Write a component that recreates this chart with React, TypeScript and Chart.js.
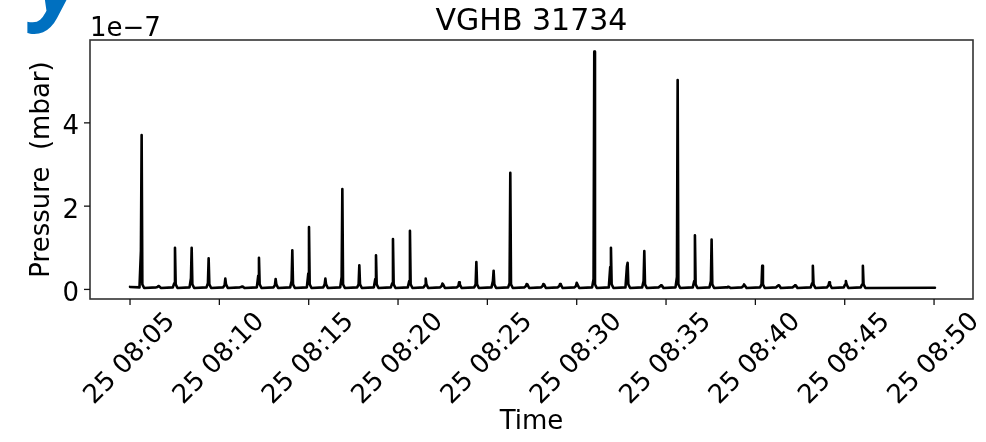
import React, { useEffect, useRef } from "react";
import { Chart, registerables } from "chart.js";

Chart.register(...registerables);

// ---- text ----
const TITLE = "VGHB 31734";
const X_LABEL = "Time";
const Y_LABEL = "Pressure  (mbar)";
const OFFSET_LABEL = "1e\u22127";
const DAY = "25";

// ---- tick labels ----
const X_TICKS = ["08:05", "08:10", "08:15", "08:20", "08:25", "08:30", "08:35", "08:40", "08:45", "08:50"];
const Y_TICKS = [0, 2, 4];

// ---- series (pressure in units of 1e-7 mbar) ----
const START_TIME = "08:05:00";
const END_TIME = "08:50:03";
const START_LEVEL = 0.06;
const BASE_LEVEL = 0.05;
const END_LEVEL = 0.04;

const spikeTimes = [
  "08:05:39", "08:06:35", "08:07:31", "08:08:27", "08:09:24", "08:10:20", "08:11:16", "08:12:13",
  "08:13:09", "08:14:05", "08:15:01", "08:15:56", "08:16:53", "08:17:50", "08:18:46", "08:19:43",
  "08:20:40", "08:21:33", "08:22:29", "08:23:25", "08:24:23", "08:25:21", "08:26:17", "08:27:12",
  "08:28:08", "08:29:04", "08:30:00", "08:30:59", "08:31:55", "08:32:51", "08:33:47", "08:34:43",
  "08:35:39", "08:36:37", "08:37:33", "08:38:28", "08:39:22", "08:40:23", "08:41:17", "08:42:13",
  "08:43:13", "08:44:08", "08:45:04", "08:46:01",
];
const spikePeaks = [
  3.71, 0.08, 1.0, 1.0, 0.75, 0.26, 0.07, 0.76,
  0.25, 0.94, 1.5, 0.26, 2.41, 0.58, 0.82, 1.21,
  1.41, 0.26, 0.14, 0.17, 0.66, 0.45, 2.8, 0.13,
  0.13, 0.13, 0.16, 5.71, 1.0, 0.64, 0.92, 0.1,
  5.03, 1.3, 1.2, 0.06, 0.12, 0.57, 0.1, 0.1,
  0.57, 0.17, 0.2, 0.57,
];
const spikeShoulders = [
  0.93, 0.06, 0.15, 0.27, 0.15, 0.1, 0.06, 0.33,
  0.1, 0.2, 0.38, 0.12, 0.3, 0.12, 0.25, 0.15,
  0.2, 0.1, 0.08, 0.08, 0.12, 0.2, 0.15, 0.08,
  0.08, 0.08, 0.08, 0.25, 0.54, 0.55, 0.2, 0.08,
  0.3, 0.2, 0.2, 0.05, 0.08, 0.12, 0.08, 0.08,
  0.15, 0.1, 0.12, 0.12,
];

const X_MIN = 2.76;
const X_MAX = 52.18;
const Y_MIN = -0.23;
const Y_MAX = 5.99;

const FONT = "'DejaVu Sans', sans-serif";

function toMin(s: string): number {
  const [h, m, sec] = s.split(":").map(Number);
  return h * 60 + m + (sec || 0) / 60 - 480;
}

function buildPoints() {
  const pts: { x: number; y: number }[] = [];
  pts.push({ x: toMin(START_TIME), y: START_LEVEL });
  spikeTimes.forEach((t, i) => {
    const c = toMin(t);
    const pk = spikePeaks[i];
    const sh = Math.min(spikeShoulders[i], pk);
    pts.push({ x: c - 0.12, y: BASE_LEVEL });
    pts.push({ x: c - 0.04, y: sh });
    pts.push({ x: c, y: pk });
    pts.push({ x: c + 0.04, y: Math.min(pk, BASE_LEVEL + 0.07) });
    pts.push({ x: c + 0.14, y: BASE_LEVEL - 0.015 });
  });
  pts.push({ x: toMin(END_TIME), y: END_LEVEL });
  return pts;
}

const decor = {
  id: "decor",
  afterDraw(chart: any) {
    const ctx = chart.ctx as CanvasRenderingContext2D;
    const a = chart.chartArea;
    const xs = chart.scales.x;
    const ys = chart.scales.y;
    ctx.save();

    // frame
    ctx.strokeStyle = "#333";
    ctx.lineWidth = 1.6;
    ctx.strokeRect(a.left, a.top, a.right - a.left, a.bottom - a.top);

    // tick marks
    ctx.strokeStyle = "#111";
    ctx.lineWidth = 1.3;
    xs.ticks.forEach((t: any) => {
      const px = xs.getPixelForValue(t.value);
      ctx.beginPath();
      ctx.moveTo(px, a.bottom);
      ctx.lineTo(px, a.bottom + 6);
      ctx.stroke();
    });
    ys.ticks.forEach((t: any) => {
      const py = ys.getPixelForValue(t.value);
      ctx.beginPath();
      ctx.moveTo(a.left, py);
      ctx.lineTo(a.left - 6, py);
      ctx.stroke();
    });

    ctx.fillStyle = "#000";
    // x tick labels (rotated 45, centered on tick)
    ctx.font = `26px ${FONT}`;
    xs.ticks.forEach((t: any, i: number) => {
      const px = xs.getPixelForValue(t.value);
      ctx.save();
      ctx.translate(px, a.bottom + 60);
      ctx.rotate(-Math.PI / 4);
      ctx.textAlign = "center";
      ctx.textBaseline = "middle";
      ctx.fillText(`${DAY} ${X_TICKS[i]}`, 0, 0);
      ctx.restore();
    });

    // y tick labels
    ctx.textAlign = "right";
    ctx.textBaseline = "alphabetic";
    ys.ticks.forEach((t: any) => {
      const py = ys.getPixelForValue(t.value);
      ctx.fillText(String(t.value), a.left - 11, py + 11.5);
    });

    // axis titles
    ctx.textAlign = "center";
    ctx.textBaseline = "middle";
    ctx.fillText(X_LABEL, (a.left + a.right) / 2, 422);
    ctx.save();
    ctx.translate(42, (a.top + a.bottom) / 2);
    ctx.rotate(-Math.PI / 2);
    ctx.fillText(Y_LABEL, 0, 0);
    ctx.restore();

    // offset text
    ctx.textAlign = "left";
    ctx.textBaseline = "alphabetic";
    ctx.fillText(OFFSET_LABEL, a.left, 36);

    // title
    ctx.font = `30px ${FONT}`;
    ctx.textAlign = "center";
    ctx.fillText(TITLE, (a.left + a.right) / 2, 30);

    // stray blue glyph from the surrounding page
    ctx.fillStyle = "#0070C0";
    ctx.font = "italic bold 96px 'Open Sans', sans-serif";
    ctx.textAlign = "left";
    ctx.fillText("y", 34, 11);

    ctx.restore();
  },
};

export default function App() {
  const ref = useRef<HTMLCanvasElement | null>(null);

  useEffect(() => {
    if (!ref.current) return;
    const chart = new Chart(ref.current, {
      type: "line",
      data: {
        datasets: [
          {
            data: buildPoints(),
            borderColor: "#000",
            borderWidth: 2.6,
            borderJoinStyle: "round",
            borderCapStyle: "round",
            pointRadius: 0,
            fill: false,
            tension: 0,
          },
        ],
      },
      options: {
        animation: false,
        responsive: false,
        devicePixelRatio: 1,
        layout: { padding: { top: 40, right: 13, left: 0, bottom: 0 } },
        plugins: { legend: { display: false }, tooltip: { enabled: false } },
        scales: {
          x: {
            type: "linear",
            min: X_MIN,
            max: X_MAX,
            afterBuildTicks: (s: any) => {
              s.ticks = X_TICKS.map((t) => ({ value: toMin(t) }));
            },
            afterFit: (s: any) => {
              s.height = 143;
            },
            ticks: { display: false },
            grid: { display: false },
            border: { display: false },
          },
          y: {
            type: "linear",
            min: Y_MIN,
            max: Y_MAX,
            afterBuildTicks: (s: any) => {
              s.ticks = Y_TICKS.map((v) => ({ value: v }));
            },
            afterFit: (s: any) => {
              s.width = 90;
            },
            ticks: { display: false },
            grid: { display: false },
            border: { display: false },
          },
        },
      },
      plugins: [decor],
    });
    return () => chart.destroy();
  }, []);

  return (
    <div style={{ position: "fixed", left: 0, top: 0, width: 986, height: 442, background: "#fff" }}>
      <canvas ref={ref} width={986} height={442} style={{ display: "block" }} />
    </div>
  );
}
